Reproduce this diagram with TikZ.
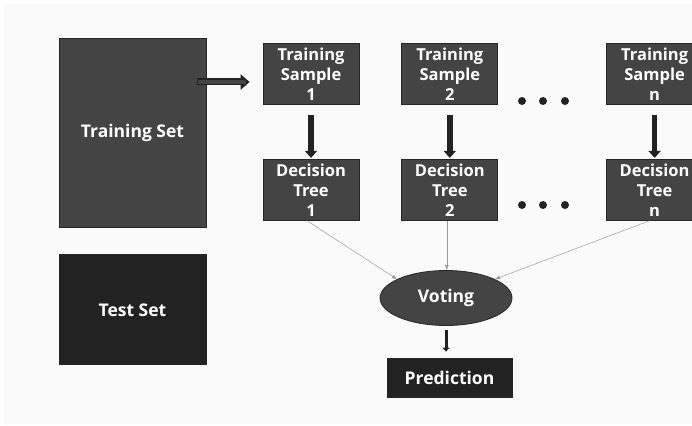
\documentclass[tikz,border=0pt]{standalone}
\usepackage{fontspec}
\setmainfont{Open Sans}
\usetikzlibrary{arrows.meta,positioning,shapes.geometric}
\definecolor{boxgray}{HTML}{444444}
\definecolor{boxdark}{HTML}{222222}
\definecolor{pagegray}{HTML}{FAFAFA}
\begin{document}
\begin{tikzpicture}[
      x=1pt, y=-1pt,
      >=Triangle,
      % dark boxes with white bold text
      box/.style={draw=black!85, line width=0.8pt, fill=boxgray, text=white, align=center, inner sep=0pt, font=\bfseries\fontsize{16.5}{20}\selectfont},
      samplebox/.style={box, minimum width=96pt, minimum height=61pt},
      bigtext/.style={font=\bfseries\fontsize{17.5}{20}\selectfont},
      setbox/.style={box, bigtext, minimum width=147pt},
      dot/.style={circle, fill=boxdark, inner sep=0pt, minimum size=8pt},
      thick arrow/.style={line width=5.5pt, draw=boxdark, -{Triangle[length=7pt,width=12pt]}},
      thin arrow/.style={line width=0.5pt, draw=black!40, -{Latex[length=5pt,width=4pt]}}
    ]
      \useasboundingbox (0,0) rectangle (692,425);
      \fill[white] (0,0) rectangle (692,425);
      \fill[pagegray] (4,4) rectangle (692,425);

      \node[setbox, minimum height=189pt] (trainset) at (132.5,132.5) {Training Set};
      \node[setbox, minimum height=110pt, fill=boxdark, below=27pt of trainset] (testset) {Test Set};

      \node[samplebox] (samp1) at (311,74) {Training\\Sample\\1};
      \node[samplebox, right=42pt of samp1] (samp2) {Training\\Sample\\2};
      \node[samplebox, right=108pt of samp2] (sampn) {Training\\Sample\\n};

      \node[samplebox, below=54pt of samp1] (tree1) {Decision\\Tree\\1};
      \node[samplebox, below=54pt of samp2] (tree2) {Decision\\Tree\\2};
      \node[samplebox, below=54pt of sampn] (treen) {Decision\\Tree\\n};

      \foreach \x/\nm in {522/a,543/b,565/c} {
        \node[dot] (dotup\nm) at (\x,101) {};
        \node[dot] (dotlo\nm) at (\x,205) {};
      }

      \node[ellipse, draw=black!85, line width=0.8pt, fill=boxgray, text=white, minimum width=132pt, minimum height=55pt, inner sep=0pt, bigtext] (vote) at (446,298) {Voting};
      \node[box, bigtext, fill=boxdark, minimum width=125pt, minimum height=39pt] (pred) at (449.5,377.5) {Prediction};

      \coordinate (tsout) at ([yshift=50.5pt]trainset.east);
      \draw[line width=7pt, draw=boxdark, -{Triangle[length=9pt,width=15pt]}] ([xshift=-9pt]tsout) -- ([xshift=-13pt]samp1.west |- tsout);
      \draw[line width=4.5pt, draw=boxgray, shorten >=4pt] ([xshift=-8pt]tsout) -- ([xshift=-13pt]samp1.west |- tsout);

      \foreach \s/\t in {samp1/tree1,samp2/tree2,sampn/treen}
        \draw[thick arrow, shorten <=10pt, shorten >=1pt] (\s.south) -- (\t.north);

      \draw[thin arrow] ([xshift=-4pt]tree1.south) -- (vote.159);
      \draw[thin arrow] ([xshift=-3pt]tree2.south) -- ([xshift=-3pt]tree2.south |- vote.north);
      \draw[thin arrow] ([xshift=-5pt]treen.south) -- (vote.21);
      \draw[line width=3pt, draw=boxdark, -{Triangle[length=4pt,width=7pt]}, shorten <=4pt, shorten >=6pt] (vote.south) -- (vote.south |- pred.north);
    \end{tikzpicture}
\end{document}
